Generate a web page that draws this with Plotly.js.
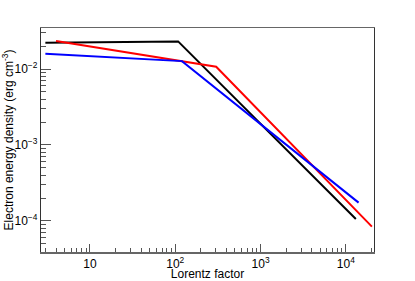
<!DOCTYPE html>
<html><head><meta charset="utf-8">
<script src="https://cdn.plot.ly/plotly-3.0.1.min.js"></script>
<style>html,body{margin:0;padding:0;background:#fff;}#c{width:415px;height:281px;}</style>
</head><body><div id="c"></div>
<script>
// Black series
var blackX = [3, 108, 13100];
var blackY = [0.0222, 0.0231, 1.06e-4];
// Red series
var redX = [4, 302, 20200];
var redY = [0.0233, 0.0107, 8.4e-5];
// Blue series
var blueX = [3, 120, 14100];
var blueY = [0.0159, 0.0127, 1.74e-4];

var xMajor = [10, 100, 1000, 10000];
var xMajorText = ['10', '10<sup>2</sup>', '10<sup>3</sup>', '10<sup>4</sup>'];
var yMajor = [1e-4, 1e-3, 1e-2];
var yMajorText = ['10<sup>\u22124</sup>', '10<sup>\u22123</sup>', '10<sup>\u22122</sup>'];

var xMinor = [];
[1, 10, 100, 1000, 10000].forEach(function (d) {
  for (var k = 2; k <= 9; k++) xMinor.push(k * d);
});
var yMinor = [];
[1e-5, 1e-4, 1e-3, 1e-2].forEach(function (d) {
  for (var k = 2; k <= 9; k++) yMinor.push(k * d);
});

var traces = [
  {x: blackX, y: blackY, mode: 'lines', line: {color: '#000000', width: 2}},
  {x: redX, y: redY, mode: 'lines', line: {color: '#ff0000', width: 2}},
  {x: blueX, y: blueY, mode: 'lines', line: {color: '#0000ff', width: 2}}
];

var font = {family: 'Liberation Sans, Arial, sans-serif', size: 12, color: '#000'};

var layout = {
  width: 415, height: 281,
  margin: {l: 41, r: 41, t: 28, b: 29, pad: 0},
  paper_bgcolor: '#fff', plot_bgcolor: '#fff',
  showlegend: false,
  font: font,
  xaxis: {
    type: 'log', range: [0.426, 4.33],
    tickmode: 'array', tickvals: xMajor, ticktext: xMajorText,
    ticks: 'inside', ticklen: 8, tickcolor: '#555', tickwidth: 1,
    showline: true, linecolor: '#666', linewidth: 1.5, mirror: true,
    showgrid: false, zeroline: false,
    tickfont: {family: font.family, size: 12, color: '#000'},
    minor: {tickvals: xMinor, ticks: 'inside', ticklen: 4, tickcolor: '#555', tickwidth: 1, showgrid: false},
    title: {text: 'Lorentz factor', font: {family: font.family, size: 12, color: '#000'}, standoff: 0}
  },
  yaxis: {
    type: 'log', range: [-4.41, -1.46],
    tickmode: 'array', tickvals: yMajor, ticktext: yMajorText,
    ticks: 'inside', ticklen: 10, tickcolor: '#555', tickwidth: 1,
    showline: true, linecolor: '#333', linewidth: 1.2, mirror: true,
    showgrid: false, zeroline: false,
    tickfont: {family: font.family, size: 12, color: '#000'},
    minor: {tickvals: yMinor, ticks: 'inside', ticklen: 5, tickcolor: '#555', tickwidth: 1, showgrid: false},
    title: {text: 'Electron energy density (erg cm<sup>-3</sup>)', font: {family: font.family, size: 12, color: '#000'}, standoff: 2}
  }
};

Plotly.newPlot('c', traces, layout, {staticPlot: true, displayModeBar: false});
</script></body></html>
